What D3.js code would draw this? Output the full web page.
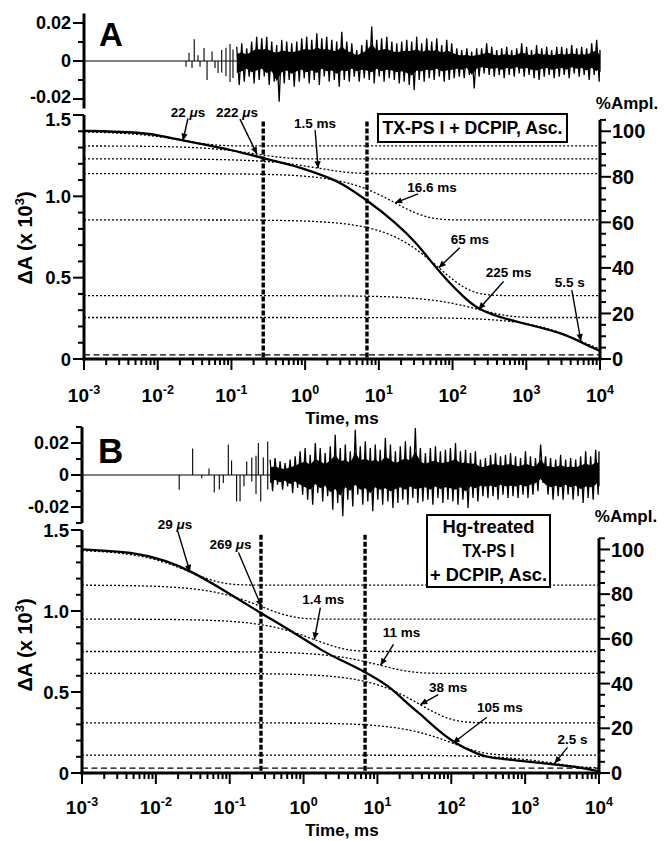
<!DOCTYPE html>
<html>
<head>
<meta charset="utf-8">
<script src="https://cdn.jsdelivr.net/npm/d3@7"></script>
<style>
  body { margin: 0; background: #fff; }
  svg { font-family: "Liberation Sans", Arial, sans-serif; font-weight: bold; }
</style>
</head>
<body>
<svg id="chart" width="672" height="841"></svg>
<script>
// ---- data (time in ms, ΔA in units of 10^-3) ----

// panel A: solid fit trace
const fitTimeA = [0.001, 0.0046, 0.0097, 0.026, 0.105, 0.27, 0.85, 2.2, 3.0, 6.9, 17.5, 32.6, 49, 83, 140, 212, 400, 1120, 3200, 5900, 10000];
const fitA = [1.403, 1.395, 1.38, 1.336, 1.285, 1.233, 1.182, 1.11, 1.085, 0.977, 0.834, 0.711, 0.608, 0.486, 0.383, 0.312, 0.26, 0.209, 0.158, 0.096, 0.05];
// panel A: fitted components (lifetimes and plateau levels)
const tauA = [0.022, 0.222, 1.5, 16.6, 65, 225, 5500];
const tauLabelA = ['22 μs', '222 μs', '1.5 ms', '16.6 ms', '65 ms', '225 ms', '5.5 s'];
const levelA = [1.40, 1.31, 1.23, 1.14, 0.855, 0.39, 0.255, 0.025];
const gateA = [0.27, 6.9];

// panel B
const fitTimeB = [0.001, 0.005, 0.014, 0.029, 0.09, 0.265, 0.65, 1.85, 3.1, 6.8, 14.8, 22.4, 41.8, 51.5, 106, 245, 334, 690, 2170, 5500, 10000];
const fitB = [1.38, 1.365, 1.31, 1.25, 1.12, 0.986, 0.883, 0.749, 0.70, 0.625, 0.533, 0.45, 0.348, 0.307, 0.185, 0.11, 0.095, 0.08, 0.056, 0.035, 0.01];
const tauB = [0.029, 0.269, 1.4, 11, 38, 105, 2500];
const tauLabelB = ['29 μs', '269 μs', '1.4 ms', '11 ms', '38 ms', '105 ms', '2.5 s'];
const levelB = [1.38, 1.16, 0.95, 0.75, 0.615, 0.31, 0.11, 0.03];
const gateB = [0.265, 6.8];

// residuals: isolated early spikes [time, value]
const spikesA = [[0.0242, -0.003], [0.0266, 0.0044], [0.0292, -0.0037], [0.0313, 0.0114], [0.0352, 0.003], [0.0375, -0.003],
  [0.0425, 0.0068], [0.0467, -0.010], [0.0546, 0.005], [0.0599, -0.0037], [0.0658, -0.0063], [0.0738, 0.0058], [0.0738, -0.006],
  [0.0843, 0.007], [0.0843, -0.008], [0.0957, 0.009], [0.0957, -0.011], [0.105, 0.006], [0.105, -0.009]];
const spikesB = [[0.0207, -0.0092], [0.0315, 0.0165], [0.0418, -0.002], [0.0524, 0.004], [0.0618, -0.011], [0.0723, -0.009],
  [0.0819, -0.005], [0.0957, 0.019], [0.106, 0.009], [0.124, -0.0165], [0.138, -0.0165], [0.156, -0.007], [0.170, 0.0085],
  [0.199, 0.011], [0.199, -0.004], [0.227, 0.012], [0.227, -0.012], [0.244, 0.02], [0.263, -0.0165], [0.285, 0.011],
  [0.327, 0.021], [0.327, -0.009]];

// residuals: envelope of the dense noise band
const resTime = [0.118, 0.138, 0.161, 0.188, 0.220, 0.258, 0.301, 0.352, 0.411, 0.481, 0.562, 0.658, 0.769, 0.899, 1.05, 1.23,
  1.44, 1.68, 1.96, 2.30, 2.68, 3.14, 3.67, 4.29, 5.01, 5.86, 6.85, 8.00, 9.35, 10.9, 12.8, 15.0, 17.5, 20.4, 23.9, 27.9, 32.6,
  38.1, 44.6, 52.1, 61.0, 71.2, 83.3, 97.3, 114, 133, 156, 182, 212, 248, 290, 340, 397, 464, 542, 634, 741, 866, 1010, 1180,
  1380, 1620, 1890, 2210, 2590, 3020, 3530, 4130, 4830, 5640, 6590, 7710, 9010, 10000];
const resHiA = [0.0075, 0.0093, 0.0067, 0.0102, 0.0128, 0.0119, 0.0128, 0.0102, 0.0084, 0.0111,
  0.0102, 0.0093, 0.0102, 0.0119, 0.0128, 0.0111, 0.0146, 0.0119, 0.0128, 0.0111,
  0.0102, 0.0154, 0.0102, 0.0093, 0.0058, 0.0084, 0.0111, 0.0181, 0.0111, 0.0119,
  0.0128, 0.0102, 0.0093, 0.0102, 0.0111, 0.0102, 0.0128, 0.0093, 0.0119, 0.0102,
  0.0119, 0.0084, 0.0111, 0.0093, 0.0067, 0.0058, 0.0067, 0.0049, 0.0067, 0.0067,
  0.0093, 0.0075, 0.0058, 0.0067, 0.0075, 0.0058, 0.0067, 0.0093, 0.0075, 0.0058,
  0.0084, 0.0067, 0.0075, 0.0058, 0.0075, 0.0075, 0.0067, 0.0084, 0.0067, 0.0075,
  0.0067, 0.0093, 0.0111, 0.0058];
const resLoA = [-0.0126, -0.0109, -0.0082, -0.0118, -0.0100, -0.0082, -0.0126, -0.0109, -0.0214, -0.0118,
  -0.0100, -0.0135, -0.0109, -0.0091, -0.0118, -0.0100, -0.0126, -0.0082, -0.0109, -0.0100,
  -0.0135, -0.0100, -0.0109, -0.0082, -0.0109, -0.0091, -0.0100, -0.0118, -0.0082, -0.0109,
  -0.0091, -0.0100, -0.0118, -0.0109, -0.0126, -0.0153, -0.0100, -0.0109, -0.0091, -0.0100,
  -0.0082, -0.0109, -0.0100, -0.0091, -0.0082, -0.0091, -0.0074, -0.0144, -0.0082, -0.0065,
  -0.0074, -0.0082, -0.0074, -0.0091, -0.0074, -0.0082, -0.0065, -0.0082, -0.0074, -0.0091,
  -0.0100, -0.0082, -0.0074, -0.0091, -0.0082, -0.0074, -0.0091, -0.0065, -0.0082, -0.0074,
  -0.0100, -0.0074, -0.0109, -0.0056];
// panel B band starts at resTime[7]
const resHiB = [0.0096, 0.0106, 0.0085, 0.0075, 0.0096, 0.0117, 0.0148, 0.0169, 0.0127, 0.0200,
  0.0169, 0.0138, 0.0179, 0.0252, 0.0169, 0.0190, 0.0148, 0.0283, 0.0179, 0.0210,
  0.0169, 0.0190, 0.0158, 0.0231, 0.0190, 0.0148, 0.0179, 0.0210, 0.0179, 0.0294,
  0.0169, 0.0138, 0.0169, 0.0179, 0.0148, 0.0158, 0.0169, 0.0200, 0.0148, 0.0158,
  0.0138, 0.0148, 0.0096, 0.0106, 0.0127, 0.0138, 0.0117, 0.0127, 0.0138, 0.0117,
  0.0106, 0.0148, 0.0117, 0.0106, 0.0190, 0.0117, 0.0106, 0.0096, 0.0127, 0.0096,
  0.0106, 0.0096, 0.0117, 0.0148, 0.0117, 0.0158, 0.0148];
const resLoB = [-0.0102, -0.0060, -0.0092, -0.0071, -0.0113, -0.0081, -0.0123, -0.0154, -0.0185, -0.0113,
  -0.0165, -0.0133, -0.0217, -0.0175, -0.0258, -0.0154, -0.0196, -0.0123, -0.0185, -0.0165,
  -0.0227, -0.0154, -0.0185, -0.0165, -0.0206, -0.0175, -0.0154, -0.0185, -0.0144, -0.0175,
  -0.0165, -0.0154, -0.0185, -0.0144, -0.0175, -0.0154, -0.0165, -0.0185, -0.0154, -0.0206,
  -0.0144, -0.0165, -0.0133, -0.0144, -0.0133, -0.0154, -0.0123, -0.0144, -0.0133, -0.0144,
  -0.0123, -0.0144, -0.0123, -0.0102, -0.0050, -0.0123, -0.0154, -0.0133, -0.0154, -0.0123,
  -0.0154, -0.0133, -0.0175, -0.0144, -0.0154, -0.0123, -0.0071];

// axis tick labels
const mainTicks = [0, 0.5, 1.0, 1.5];
const mainTickLabels = ['0', '0.5', '1.0', '1.5'];
const resTicks = [-0.02, 0, 0.02];
const resTickLabels = ['-0.02', '0', '0.02'];
const pctTicks = [0, 20, 40, 60, 80, 100];

// ---- layout ----
const svg = d3.select('#chart');

svg.append('defs').append('marker')
  .attr('id', 'arrow')
  .attr('viewBox', '0 0 10 10')
  .attr('refX', 10).attr('refY', 5)
  .attr('markerWidth', 8).attr('markerHeight', 7)
  .attr('markerUnits', 'userSpaceOnUse')
  .attr('orient', 'auto')
  .append('path').attr('d', 'M0,0.5 L10,5 L0,9.5 z').attr('fill', '#000');

const panelA = {
  letter: 'A', letterPos: [99, 46], letterSize: 33,
  xRange: [84, 600], mainY: [359, 115],
  resY: [108.5, 13.5], resDomain: [-0.025, 0.025], resMinor: [-0.01, 0.01],
  lowResShift: -2, topMainShift: 4,
  gateTop: 1.46, yLabelY: 238, xLabelY: 402, timeY: 424, pctLabelY: 109,
  textOff: [[5, -28], [-20, -42], [-3, -45], [37, -16], [31, -28], [30, -37], [-11, -59]],
  startOff: [[5, -22], [-17, -35], [-3, -38], [23, -9], [21, -20], [25, -28], [-9, -51]],
  box: { x: 378, y: 114, w: 189, h: 28, lines: ['TX-PS I + DCPIP, Asc.'], widths: [180] }
};
const panelB = {
  letter: 'B', letterPos: [98, 463], letterSize: 35,
  xRange: [82, 599], mainY: [773, 530],
  resY: [523, 427], resDomain: [-0.03, 0.03], resMinor: [-0.03, -0.01, 0.01, 0.03],
  lowResShift: 0, topMainShift: 0,
  gateTop: 1.47, yLabelY: 645, xLabelY: 814, timeY: 836, pctLabelY: 522,
  textOff: [[-15, -48], [-31, -62], [9, -40], [21, -33], [28, -17], [47, -36], [18, -24]],
  startOff: [[-12, -40], [-23, -54], [6, -32], [13, -21], [18, -10], [34, -26], [13, -16]],
  box: { x: 427, y: 515, w: 123, h: 72, lines: ['Hg-treated', 'TX-PS I', '+ DCPIP, Asc.'], widths: [92, 52, 117] }
};

const dataA = { fitT: fitTimeA, fit: fitA, taus: tauA, tauLabels: tauLabelA, levels: levelA, gates: gateA,
  spikes: spikesA, resT: resTime, resHi: resHiA, resLo: resLoA };
const dataB = { fitT: fitTimeB, fit: fitB, taus: tauB, tauLabels: tauLabelB, levels: levelB, gates: gateB,
  spikes: spikesB, resT: resTime.slice(resTime.length - resHiB.length), resHi: resHiB, resLo: resLoB };

// one exponential component, decaying from levels[i] to levels[i+1]
function component(levels, taus, i, t) {
  return levels[i + 1] + (levels[i] - levels[i + 1]) * Math.exp(-t / taus[i]);
}

function drawPanel(p, d) {
  const g = svg.append('g');
  const [x0, x1] = p.xRange;
  const x = d3.scaleLog().domain([1e-3, 1e4]).range(p.xRange);
  const y = d3.scaleLinear().domain([0, 1.5]).range(p.mainY);
  const yPct = d3.scaleLinear().domain([0, 100]).range([y(0), y(d.levels[0])]);
  const yRes = d3.scaleLinear().domain(p.resDomain).range(p.resY);
  const tGrid = d3.range(-3, 4.0001, 0.02).map(e => Math.pow(10, e));

  // residual trace: zero line, early spikes, dense band
  g.append('line')
    .attr('x1', x0).attr('x2', x1)
    .attr('y1', yRes(0)).attr('y2', yRes(0))
    .attr('stroke', '#000').attr('stroke-width', 1);
  g.append('g').selectAll('line')
    .data(d.spikes)
    .enter().append('line')
    .attr('x1', s => x(s[0])).attr('x2', s => x(s[0]))
    .attr('y1', yRes(0)).attr('y2', s => yRes(s[1]))
    .attr('stroke', '#000').attr('stroke-width', 1.1);
  const band = d.resT.map((t, i) => ({ t: t, hi: d.resHi[i], lo: d.resLo[i] }));
  // solid core of the band
  g.append('path')
    .datum(band)
    .attr('d', d3.area().x(b => x(b.t)).y0(b => yRes(b.lo * 0.5)).y1(b => yRes(b.hi * 0.5)))
    .attr('fill', '#000');
  // noisy excursions out to the envelope
  const zig = [];
  band.forEach(b => {
    zig.push([x(b.t), yRes(b.hi)]);
    zig.push([Math.min(x(b.t) + 2.5, x1), yRes(b.lo)]);
  });
  g.append('path')
    .datum(zig)
    .attr('d', d3.line())
    .attr('fill', 'none').attr('stroke', '#000').attr('stroke-width', 1.3)
    .attr('stroke-linejoin', 'bevel');

  // baseline (dashed)
  const base = d.levels[d.levels.length - 1];
  g.append('line')
    .attr('x1', x0).attr('x2', x1)
    .attr('y1', y(base)).attr('y2', y(base))
    .attr('stroke', '#000').attr('stroke-width', 1.2)
    .attr('stroke-dasharray', '6,3.5');

  // component curves (dotted)
  d.taus.forEach((tau, i) => {
    g.append('path')
      .datum(tGrid)
      .attr('d', d3.line().x(t => x(t)).y(t => y(component(d.levels, d.taus, i, t))))
      .attr('fill', 'none').attr('stroke', '#000').attr('stroke-width', 1.3)
      .attr('stroke-dasharray', '2,2');
  });

  // solid fit trace
  g.append('path')
    .datum(d.fitT.map((t, i) => [t, d.fit[i]]))
    .attr('d', d3.line().curve(d3.curveBasis).x(v => x(v[0])).y(v => y(v[1])))
    .attr('fill', 'none').attr('stroke', '#000').attr('stroke-width', 2.3);

  // heavy dashed vertical markers
  g.selectAll('.gate')
    .data(d.gates)
    .enter().append('line')
    .attr('x1', t => x(t)).attr('x2', t => x(t))
    .attr('y1', y(p.gateTop)).attr('y2', y(0))
    .attr('stroke', '#000').attr('stroke-width', 3.4)
    .attr('stroke-dasharray', '5,2');

  // annotations with arrows
  d.taus.forEach((tau, i) => {
    const tx = x(tau);
    const ty = y(component(d.levels, d.taus, i, tau));
    g.append('line')
      .attr('x1', tx + p.startOff[i][0]).attr('y1', ty + p.startOff[i][1])
      .attr('x2', tx).attr('y2', ty)
      .attr('stroke', '#000').attr('stroke-width', 1.4)
      .attr('marker-end', 'url(#arrow)');
    const parts = d.tauLabels[i].split('μ');
    const label = g.append('text')
      .attr('x', tx + p.textOff[i][0]).attr('y', ty + p.textOff[i][1])
      .attr('dy', '0.35em')
      .attr('text-anchor', 'middle')
      .attr('font-size', 13.5);
    label.append('tspan').text(parts[0]);
    if (parts.length > 1) {
      label.append('tspan').attr('font-style', 'italic').text('μ');
      label.append('tspan').text(parts[1]);
    }
  });

  // ---- axes ----
  const axisStroke = 3;
  // residual left axis
  g.append('line')
    .attr('x1', x0).attr('x2', x0)
    .attr('y1', yRes(p.resDomain[0])).attr('y2', yRes(p.resDomain[1]))
    .attr('stroke', '#000').attr('stroke-width', axisStroke);
  resTicks.forEach((v, i) => {
    g.append('line').attr('x1', x0 - 11).attr('x2', x0).attr('y1', yRes(v)).attr('y2', yRes(v))
      .attr('stroke', '#000').attr('stroke-width', 2);
    g.append('text').attr('x', x0 - 13).attr('y', yRes(v) + (i === 0 ? p.lowResShift : 0)).attr('dy', '0.34em')
      .attr('text-anchor', 'end').attr('font-size', 18).text(resTickLabels[i]);
  });
  p.resMinor.forEach(v => {
    g.append('line').attr('x1', x0 - 6).attr('x2', x0).attr('y1', yRes(v)).attr('y2', yRes(v))
      .attr('stroke', '#000').attr('stroke-width', 2);
  });

  // main left axis
  g.append('line')
    .attr('x1', x0).attr('x2', x0)
    .attr('y1', y(0) + 1.5).attr('y2', y(1.5))
    .attr('stroke', '#000').attr('stroke-width', axisStroke);
  d3.range(0, 1.5001, 0.1).forEach(v => {
    const major = mainTicks.some(m => Math.abs(m - v) < 1e-6);
    g.append('line').attr('x1', x0 - (major ? 11 : 6)).attr('x2', x0).attr('y1', y(v)).attr('y2', y(v))
      .attr('stroke', '#000').attr('stroke-width', 2);
  });
  mainTicks.forEach((v, i) => {
    g.append('text').attr('x', x0 - 13).attr('y', y(v) + (i === mainTicks.length - 1 ? p.topMainShift : 0))
      .attr('dy', '0.36em')
      .attr('text-anchor', 'end').attr('font-size', 18.5).text(mainTickLabels[i]);
  });

  // bottom log axis
  g.append('line')
    .attr('x1', x0 - 1.5).attr('x2', x1 + 1.5)
    .attr('y1', y(0)).attr('y2', y(0))
    .attr('stroke', '#000').attr('stroke-width', axisStroke);
  x.ticks().forEach(t => {
    const e = Math.log10(t);
    const decade = Math.abs(e - Math.round(e)) < 1e-6;
    g.append('line').attr('x1', x(t)).attr('x2', x(t)).attr('y1', y(0)).attr('y2', y(0) + (decade ? 11 : 6))
      .attr('stroke', '#000').attr('stroke-width', 2);
    if (decade) {
      const lab = g.append('text').attr('x', x(t)).attr('y', p.xLabelY)
        .attr('text-anchor', 'middle').attr('font-size', 19);
      lab.append('tspan').text('10');
      lab.append('tspan').attr('dy', -8).attr('font-size', 12.5).text(String(Math.round(e)));
    }
  });
  g.append('text').attr('x', 342).attr('y', p.timeY).attr('text-anchor', 'middle')
    .attr('font-size', 17).text('Time, ms');

  // right %Ampl. axis
  g.append('line')
    .attr('x1', x1).attr('x2', x1)
    .attr('y1', yPct(0) + 1.5).attr('y2', yPct(105))
    .attr('stroke', '#000').attr('stroke-width', axisStroke);
  d3.range(0, 105.1, 5).forEach(v => {
    const major = pctTicks.indexOf(v) >= 0;
    g.append('line').attr('x1', x1).attr('x2', x1 + (major ? 11 : 6)).attr('y1', yPct(v)).attr('y2', yPct(v))
      .attr('stroke', '#000').attr('stroke-width', 2);
  });
  pctTicks.forEach(v => {
    g.append('text').attr('x', x1 + 12).attr('y', yPct(v)).attr('dy', '0.36em')
      .attr('font-size', 20).text(String(v));
  });
  g.append('text').attr('x', x1 + 27).attr('y', p.pctLabelY).attr('text-anchor', 'middle')
    .attr('font-size', 17).text('%Ampl.');

  // y axis title
  const yt = g.append('text')
    .attr('transform', `translate(32,${p.yLabelY}) rotate(-90)`)
    .attr('text-anchor', 'middle').attr('font-size', 20);
  yt.append('tspan').text('ΔA (x 10');
  yt.append('tspan').attr('dy', -8).attr('font-size', 13).text('3');
  yt.append('tspan').attr('dy', 8).text(')');

  // panel letter
  g.append('text').attr('x', p.letterPos[0]).attr('y', p.letterPos[1])
    .attr('font-size', p.letterSize).attr('font-weight', 'bold').text(p.letter);

  // sample legend box
  const b = p.box;
  g.append('rect').attr('x', b.x).attr('y', b.y).attr('width', b.w).attr('height', b.h)
    .attr('fill', '#fff').attr('stroke', '#000').attr('stroke-width', 2);
  const lineH = b.h / b.lines.length;
  b.lines.forEach((s, i) => {
    g.append('text').attr('x', b.x + b.w / 2).attr('y', b.y + lineH * (i + 0.5)).attr('dy', '0.36em')
      .attr('text-anchor', 'middle').attr('font-size', 18)
      .attr('textLength', b.widths[i]).attr('lengthAdjust', 'spacingAndGlyphs')
      .text(s);
  });
}

drawPanel(panelA, dataA);
drawPanel(panelB, dataB);
</script>
</body>
</html>
